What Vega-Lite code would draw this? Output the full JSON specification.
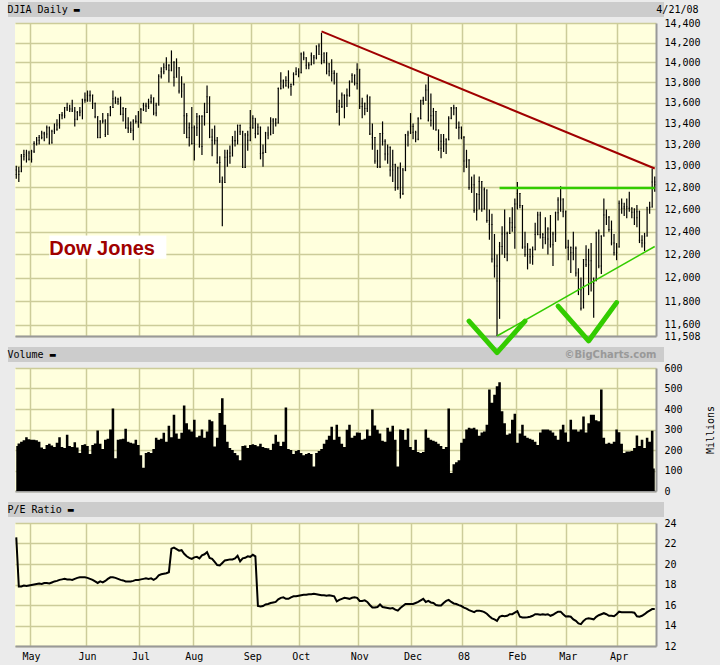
{
"$schema": "https://vega.github.io/schema/vega-lite/v6.json",
"background": "#ebebeb",
"padding": {"left": 7, "top": 4, "right": 10, "bottom": 10},
"bounds": "flush",
"spacing": 32,
"datasets": {
"rows": [
{"d":"2007-04-23","o":12960,"h":13000,"l":12880,"c":12920,"v":220,"pe":22.6},
{"d":"2007-04-24","o":12920,"h":12990,"l":12850,"c":12950,"v":232,"pe":17.8},
{"d":"2007-04-25","o":12950,"h":13110,"l":12940,"c":13090,"v":240,"pe":17.8},
{"d":"2007-04-26","o":13090,"h":13150,"l":13050,"c":13105,"v":248,"pe":17.9},
{"d":"2007-04-27","o":13100,"h":13150,"l":13030,"c":13120,"v":262,"pe":17.85},
{"d":"2007-04-30","o":13120,"h":13140,"l":13050,"c":13060,"v":252,"pe":17.9},
{"d":"2007-05-01","o":13060,"h":13150,"l":13030,"c":13135,"v":250,"pe":17.95},
{"d":"2007-05-02","o":13135,"h":13230,"l":13120,"c":13210,"v":250,"pe":18.0},
{"d":"2007-05-03","o":13210,"h":13270,"l":13190,"c":13240,"v":248,"pe":18.05},
{"d":"2007-05-04","o":13240,"h":13290,"l":13200,"c":13265,"v":240,"pe":18.1},
{"d":"2007-05-07","o":13265,"h":13330,"l":13250,"c":13310,"v":212,"pe":18.05},
{"d":"2007-05-08","o":13310,"h":13320,"l":13230,"c":13300,"v":205,"pe":18.15},
{"d":"2007-05-09","o":13300,"h":13380,"l":13260,"c":13360,"v":225,"pe":18.15},
{"d":"2007-05-10","o":13360,"h":13370,"l":13200,"c":13215,"v":230,"pe":18.1},
{"d":"2007-05-11","o":13215,"h":13340,"l":13210,"c":13325,"v":222,"pe":18.2},
{"d":"2007-05-14","o":13325,"h":13400,"l":13300,"c":13345,"v":215,"pe":18.3},
{"d":"2007-05-15","o":13345,"h":13440,"l":13330,"c":13385,"v":235,"pe":18.35},
{"d":"2007-05-16","o":13385,"h":13490,"l":13350,"c":13485,"v":262,"pe":18.45},
{"d":"2007-05-17","o":13485,"h":13510,"l":13440,"c":13475,"v":215,"pe":18.5},
{"d":"2007-05-18","o":13475,"h":13560,"l":13450,"c":13555,"v":210,"pe":18.55},
{"d":"2007-05-21","o":13555,"h":13600,"l":13520,"c":13540,"v":275,"pe":18.5},
{"d":"2007-05-22","o":13540,"h":13580,"l":13510,"c":13540,"v":220,"pe":18.5},
{"d":"2007-05-23","o":13540,"h":13630,"l":13510,"c":13520,"v":215,"pe":18.45},
{"d":"2007-05-24","o":13520,"h":13560,"l":13370,"c":13440,"v":238,"pe":18.55},
{"d":"2007-05-25","o":13440,"h":13520,"l":13430,"c":13505,"v":212,"pe":18.65},
{"d":"2007-05-29","o":13505,"h":13560,"l":13470,"c":13520,"v":185,"pe":18.7},
{"d":"2007-05-30","o":13520,"h":13640,"l":13440,"c":13630,"v":225,"pe":18.7},
{"d":"2007-05-31","o":13630,"h":13700,"l":13600,"c":13625,"v":228,"pe":18.7},
{"d":"2007-06-01","o":13625,"h":13720,"l":13610,"c":13670,"v":220,"pe":18.65},
{"d":"2007-06-04","o":13670,"h":13720,"l":13610,"c":13675,"v":180,"pe":18.55},
{"d":"2007-06-05","o":13675,"h":13680,"l":13540,"c":13595,"v":225,"pe":18.45},
{"d":"2007-06-06","o":13595,"h":13600,"l":13450,"c":13465,"v":232,"pe":18.3},
{"d":"2007-06-07","o":13465,"h":13470,"l":13260,"c":13265,"v":295,"pe":18.15},
{"d":"2007-06-08","o":13265,"h":13430,"l":13260,"c":13425,"v":230,"pe":18.3},
{"d":"2007-06-11","o":13425,"h":13500,"l":13400,"c":13425,"v":205,"pe":18.2},
{"d":"2007-06-12","o":13425,"h":13440,"l":13270,"c":13295,"v":250,"pe":18.35},
{"d":"2007-06-13","o":13295,"h":13500,"l":13295,"c":13480,"v":255,"pe":18.55},
{"d":"2007-06-14","o":13480,"h":13570,"l":13470,"c":13555,"v":300,"pe":18.7},
{"d":"2007-06-15","o":13555,"h":13720,"l":13550,"c":13640,"v":402,"pe":18.7},
{"d":"2007-06-18","o":13640,"h":13660,"l":13590,"c":13610,"v":160,"pe":18.65},
{"d":"2007-06-19","o":13610,"h":13650,"l":13580,"c":13635,"v":250,"pe":18.55},
{"d":"2007-06-20","o":13635,"h":13660,"l":13480,"c":13490,"v":252,"pe":18.45},
{"d":"2007-06-21","o":13490,"h":13560,"l":13420,"c":13545,"v":255,"pe":18.4},
{"d":"2007-06-22","o":13545,"h":13550,"l":13350,"c":13360,"v":304,"pe":18.3},
{"d":"2007-06-25","o":13360,"h":13460,"l":13310,"c":13350,"v":240,"pe":18.3},
{"d":"2007-06-26","o":13350,"h":13420,"l":13310,"c":13335,"v":235,"pe":18.3},
{"d":"2007-06-27","o":13335,"h":13440,"l":13240,"c":13425,"v":232,"pe":18.35},
{"d":"2007-06-28","o":13425,"h":13480,"l":13400,"c":13420,"v":250,"pe":18.45},
{"d":"2007-06-29","o":13420,"h":13520,"l":13360,"c":13410,"v":225,"pe":18.45},
{"d":"2007-07-02","o":13410,"h":13550,"l":13400,"c":13535,"v":175,"pe":18.5},
{"d":"2007-07-03","o":13535,"h":13600,"l":13520,"c":13575,"v":113,"pe":18.55},
{"d":"2007-07-05","o":13575,"h":13600,"l":13510,"c":13565,"v":185,"pe":18.6},
{"d":"2007-07-06","o":13565,"h":13640,"l":13540,"c":13610,"v":190,"pe":18.55},
{"d":"2007-07-09","o":13610,"h":13680,"l":13590,"c":13650,"v":185,"pe":18.6},
{"d":"2007-07-10","o":13650,"h":13650,"l":13480,"c":13500,"v":205,"pe":18.45},
{"d":"2007-07-11","o":13500,"h":13600,"l":13470,"c":13575,"v":260,"pe":18.6},
{"d":"2007-07-12","o":13575,"h":13880,"l":13575,"c":13860,"v":250,"pe":18.9},
{"d":"2007-07-13","o":13860,"h":13950,"l":13840,"c":13905,"v":255,"pe":19.0},
{"d":"2007-07-16","o":13905,"h":13990,"l":13880,"c":13950,"v":284,"pe":19.05},
{"d":"2007-07-17","o":13950,"h":14050,"l":13920,"c":13970,"v":240,"pe":19.1},
{"d":"2007-07-18","o":13970,"h":13980,"l":13800,"c":13920,"v":318,"pe":19.2},
{"d":"2007-07-19","o":13920,"h":14120,"l":13910,"c":14000,"v":262,"pe":21.5},
{"d":"2007-07-20","o":14000,"h":14010,"l":13760,"c":13850,"v":372,"pe":21.6},
{"d":"2007-07-23","o":13850,"h":14040,"l":13850,"c":13945,"v":280,"pe":21.45},
{"d":"2007-07-24","o":13945,"h":13950,"l":13690,"c":13715,"v":255,"pe":21.3},
{"d":"2007-07-25","o":13715,"h":13860,"l":13650,"c":13785,"v":284,"pe":21.35},
{"d":"2007-07-26","o":13785,"h":13790,"l":13300,"c":13475,"v":417,"pe":21.0},
{"d":"2007-07-27","o":13475,"h":13500,"l":13260,"c":13265,"v":330,"pe":20.75},
{"d":"2007-07-30","o":13265,"h":13410,"l":13180,"c":13360,"v":300,"pe":20.6},
{"d":"2007-07-31","o":13360,"h":13560,"l":13200,"c":13210,"v":290,"pe":20.5},
{"d":"2007-08-01","o":13210,"h":13380,"l":13050,"c":13360,"v":348,"pe":20.65},
{"d":"2007-08-02","o":13360,"h":13500,"l":13280,"c":13465,"v":262,"pe":20.7},
{"d":"2007-08-03","o":13465,"h":13480,"l":13170,"c":13180,"v":270,"pe":20.55},
{"d":"2007-08-06","o":13180,"h":13480,"l":13100,"c":13470,"v":300,"pe":20.85},
{"d":"2007-08-07","o":13470,"h":13600,"l":13380,"c":13505,"v":260,"pe":20.95},
{"d":"2007-08-08","o":13505,"h":13770,"l":13500,"c":13660,"v":290,"pe":21.15},
{"d":"2007-08-09","o":13660,"h":13660,"l":13260,"c":13270,"v":348,"pe":20.6},
{"d":"2007-08-10","o":13270,"h":13350,"l":13090,"c":13240,"v":340,"pe":20.5},
{"d":"2007-08-13","o":13240,"h":13380,"l":13200,"c":13235,"v":217,"pe":20.2},
{"d":"2007-08-14","o":13235,"h":13270,"l":13020,"c":13030,"v":260,"pe":19.9},
{"d":"2007-08-15","o":13030,"h":13090,"l":12840,"c":12860,"v":380,"pe":19.85},
{"d":"2007-08-16","o":12860,"h":12900,"l":12450,"c":12845,"v":452,"pe":20.1},
{"d":"2007-08-17","o":12845,"h":13150,"l":12840,"c":13080,"v":323,"pe":20.35},
{"d":"2007-08-20","o":13080,"h":13150,"l":12990,"c":13120,"v":240,"pe":20.4},
{"d":"2007-08-21","o":13120,"h":13190,"l":13020,"c":13090,"v":210,"pe":20.45},
{"d":"2007-08-22","o":13090,"h":13280,"l":13090,"c":13235,"v":200,"pe":20.45},
{"d":"2007-08-23","o":13235,"h":13330,"l":13180,"c":13235,"v":185,"pe":20.55},
{"d":"2007-08-24","o":13235,"h":13390,"l":13200,"c":13380,"v":175,"pe":20.8},
{"d":"2007-08-27","o":13380,"h":13390,"l":13290,"c":13320,"v":150,"pe":20.25},
{"d":"2007-08-28","o":13320,"h":13330,"l":12980,"c":12985,"v":220,"pe":20.55},
{"d":"2007-08-29","o":12985,"h":13310,"l":12980,"c":13290,"v":222,"pe":20.6},
{"d":"2007-08-30","o":13290,"h":13330,"l":13140,"c":13240,"v":210,"pe":20.75},
{"d":"2007-08-31","o":13240,"h":13530,"l":13230,"c":13360,"v":225,"pe":20.7},
{"d":"2007-09-04","o":13360,"h":13480,"l":13350,"c":13450,"v":228,"pe":20.9},
{"d":"2007-09-05","o":13450,"h":13450,"l":13260,"c":13305,"v":225,"pe":20.75},
{"d":"2007-09-06","o":13305,"h":13400,"l":13290,"c":13365,"v":218,"pe":15.9},
{"d":"2007-09-07","o":13365,"h":13370,"l":13060,"c":13115,"v":230,"pe":15.85},
{"d":"2007-09-10","o":13115,"h":13200,"l":12990,"c":13125,"v":215,"pe":15.9},
{"d":"2007-09-11","o":13125,"h":13320,"l":13120,"c":13310,"v":210,"pe":16.05},
{"d":"2007-09-12","o":13310,"h":13370,"l":13250,"c":13290,"v":208,"pe":16.1},
{"d":"2007-09-13","o":13290,"h":13460,"l":13290,"c":13425,"v":200,"pe":16.2},
{"d":"2007-09-14","o":13425,"h":13450,"l":13300,"c":13440,"v":230,"pe":16.25},
{"d":"2007-09-17","o":13440,"h":13450,"l":13370,"c":13405,"v":275,"pe":16.3},
{"d":"2007-09-18","o":13405,"h":13750,"l":13400,"c":13740,"v":240,"pe":16.55},
{"d":"2007-09-19","o":13740,"h":13900,"l":13730,"c":13815,"v":220,"pe":16.7},
{"d":"2007-09-20","o":13815,"h":13830,"l":13740,"c":13765,"v":240,"pe":16.75},
{"d":"2007-09-21","o":13765,"h":13860,"l":13760,"c":13820,"v":407,"pe":16.6},
{"d":"2007-09-24","o":13820,"h":13920,"l":13740,"c":13760,"v":205,"pe":16.6},
{"d":"2007-09-25","o":13760,"h":13790,"l":13670,"c":13780,"v":200,"pe":16.75},
{"d":"2007-09-26","o":13780,"h":13900,"l":13770,"c":13880,"v":180,"pe":16.85},
{"d":"2007-09-27","o":13880,"h":13950,"l":13870,"c":13910,"v":195,"pe":16.85},
{"d":"2007-09-28","o":13910,"h":13940,"l":13850,"c":13895,"v":200,"pe":16.9},
{"d":"2007-10-01","o":13895,"h":14100,"l":13890,"c":14085,"v":185,"pe":16.95},
{"d":"2007-10-02","o":14085,"h":14110,"l":14020,"c":14045,"v":175,"pe":17.0},
{"d":"2007-10-03","o":14045,"h":14050,"l":13930,"c":13970,"v":180,"pe":17.0},
{"d":"2007-10-04","o":13970,"h":14000,"l":13930,"c":13975,"v":185,"pe":17.05},
{"d":"2007-10-05","o":13975,"h":14100,"l":13970,"c":14065,"v":180,"pe":17.05},
{"d":"2007-10-08","o":14065,"h":14070,"l":13980,"c":14045,"v":119,"pe":17.1},
{"d":"2007-10-09","o":14045,"h":14170,"l":14030,"c":14165,"v":185,"pe":17.05},
{"d":"2007-10-10","o":14165,"h":14190,"l":14080,"c":14080,"v":195,"pe":17.0},
{"d":"2007-10-11","o":14080,"h":14300,"l":13980,"c":14015,"v":205,"pe":16.95},
{"d":"2007-10-12","o":14015,"h":14100,"l":13990,"c":14095,"v":230,"pe":16.95},
{"d":"2007-10-15","o":14095,"h":14100,"l":13880,"c":13985,"v":250,"pe":16.9},
{"d":"2007-10-16","o":13985,"h":13990,"l":13860,"c":13910,"v":270,"pe":16.95},
{"d":"2007-10-17","o":13910,"h":14030,"l":13810,"c":13890,"v":314,"pe":16.9},
{"d":"2007-10-18","o":13890,"h":13920,"l":13780,"c":13890,"v":250,"pe":16.85},
{"d":"2007-10-19","o":13890,"h":13890,"l":13500,"c":13520,"v":323,"pe":16.35},
{"d":"2007-10-22","o":13520,"h":13630,"l":13380,"c":13565,"v":265,"pe":16.5},
{"d":"2007-10-23","o":13565,"h":13700,"l":13550,"c":13675,"v":230,"pe":16.6},
{"d":"2007-10-24","o":13675,"h":13680,"l":13450,"c":13675,"v":215,"pe":16.7},
{"d":"2007-10-25","o":13675,"h":13740,"l":13560,"c":13670,"v":299,"pe":16.65},
{"d":"2007-10-26","o":13670,"h":13820,"l":13660,"c":13805,"v":323,"pe":16.6},
{"d":"2007-10-29","o":13805,"h":13890,"l":13800,"c":13870,"v":260,"pe":16.7},
{"d":"2007-10-30","o":13870,"h":13880,"l":13770,"c":13790,"v":270,"pe":16.75},
{"d":"2007-10-31","o":13790,"h":13990,"l":13730,"c":13930,"v":285,"pe":16.7},
{"d":"2007-11-01","o":13930,"h":13930,"l":13540,"c":13565,"v":284,"pe":16.4},
{"d":"2007-11-02","o":13565,"h":13650,"l":13450,"c":13595,"v":250,"pe":16.4},
{"d":"2007-11-05","o":13595,"h":13600,"l":13480,"c":13545,"v":255,"pe":16.45},
{"d":"2007-11-06","o":13545,"h":13680,"l":13510,"c":13660,"v":300,"pe":16.3},
{"d":"2007-11-07","o":13660,"h":13660,"l":13290,"c":13300,"v":270,"pe":16.0},
{"d":"2007-11-08","o":13300,"h":13400,"l":13150,"c":13265,"v":397,"pe":15.75},
{"d":"2007-11-09","o":13265,"h":13270,"l":13020,"c":13045,"v":320,"pe":15.75},
{"d":"2007-11-12","o":13045,"h":13150,"l":12980,"c":12990,"v":299,"pe":15.8},
{"d":"2007-11-13","o":12990,"h":13310,"l":12980,"c":13305,"v":280,"pe":16.05},
{"d":"2007-11-14","o":13305,"h":13420,"l":13190,"c":13230,"v":245,"pe":15.8},
{"d":"2007-11-15","o":13230,"h":13250,"l":13050,"c":13110,"v":240,"pe":15.75},
{"d":"2007-11-16","o":13110,"h":13200,"l":13020,"c":13175,"v":309,"pe":15.7},
{"d":"2007-11-19","o":13175,"h":13180,"l":12900,"c":12960,"v":290,"pe":15.65},
{"d":"2007-11-20","o":12960,"h":13150,"l":12850,"c":13010,"v":318,"pe":15.7},
{"d":"2007-11-21","o":13010,"h":13020,"l":12770,"c":12800,"v":250,"pe":15.55},
{"d":"2007-11-23","o":12800,"h":12990,"l":12780,"c":12980,"v":119,"pe":15.45},
{"d":"2007-11-26","o":12980,"h":13030,"l":12700,"c":12745,"v":300,"pe":15.7},
{"d":"2007-11-27","o":12745,"h":12980,"l":12730,"c":12960,"v":298,"pe":15.9},
{"d":"2007-11-28","o":12960,"h":13300,"l":12950,"c":13290,"v":250,"pe":16.1},
{"d":"2007-11-29","o":13290,"h":13330,"l":13180,"c":13310,"v":305,"pe":16.1},
{"d":"2007-11-30","o":13310,"h":13500,"l":13300,"c":13370,"v":215,"pe":16.1},
{"d":"2007-12-03","o":13370,"h":13400,"l":13250,"c":13315,"v":200,"pe":16.1},
{"d":"2007-12-04","o":13315,"h":13330,"l":13220,"c":13250,"v":250,"pe":16.2},
{"d":"2007-12-05","o":13250,"h":13460,"l":13240,"c":13445,"v":190,"pe":16.3},
{"d":"2007-12-06","o":13445,"h":13630,"l":13440,"c":13620,"v":185,"pe":16.45},
{"d":"2007-12-07","o":13620,"h":13660,"l":13580,"c":13625,"v":190,"pe":16.6},
{"d":"2007-12-10","o":13625,"h":13780,"l":13620,"c":13725,"v":300,"pe":16.3},
{"d":"2007-12-11","o":13725,"h":13860,"l":13420,"c":13430,"v":260,"pe":16.4},
{"d":"2007-12-12","o":13430,"h":13690,"l":13370,"c":13475,"v":250,"pe":16.25},
{"d":"2007-12-13","o":13475,"h":13550,"l":13340,"c":13515,"v":245,"pe":16.2},
{"d":"2007-12-14","o":13515,"h":13520,"l":13330,"c":13340,"v":240,"pe":16.0},
{"d":"2007-12-17","o":13340,"h":13340,"l":13140,"c":13165,"v":230,"pe":15.95},
{"d":"2007-12-18","o":13165,"h":13300,"l":13070,"c":13230,"v":220,"pe":15.95},
{"d":"2007-12-19","o":13230,"h":13300,"l":13130,"c":13205,"v":205,"pe":16.2},
{"d":"2007-12-20","o":13205,"h":13260,"l":13110,"c":13245,"v":215,"pe":16.4},
{"d":"2007-12-21","o":13245,"h":13470,"l":13240,"c":13450,"v":402,"pe":16.5},
{"d":"2007-12-24","o":13450,"h":13560,"l":13440,"c":13550,"v":88,"pe":16.3},
{"d":"2007-12-26","o":13550,"h":13580,"l":13480,"c":13550,"v":130,"pe":16.15},
{"d":"2007-12-27","o":13550,"h":13560,"l":13350,"c":13360,"v":140,"pe":16.1},
{"d":"2007-12-28","o":13360,"h":13420,"l":13250,"c":13365,"v":150,"pe":15.99},
{"d":"2007-12-31","o":13365,"h":13370,"l":13250,"c":13265,"v":235,"pe":15.9},
{"d":"2008-01-02","o":13265,"h":13280,"l":12940,"c":13045,"v":255,"pe":15.75},
{"d":"2008-01-03","o":13045,"h":13150,"l":12980,"c":13055,"v":300,"pe":15.65},
{"d":"2008-01-04","o":13055,"h":13060,"l":12780,"c":12800,"v":309,"pe":15.5},
{"d":"2008-01-07","o":12800,"h":12900,"l":12750,"c":12825,"v":305,"pe":15.4},
{"d":"2008-01-08","o":12825,"h":12920,"l":12570,"c":12590,"v":309,"pe":15.3},
{"d":"2008-01-09","o":12590,"h":12750,"l":12500,"c":12735,"v":300,"pe":15.45},
{"d":"2008-01-10","o":12735,"h":12900,"l":12600,"c":12855,"v":270,"pe":15.45},
{"d":"2008-01-11","o":12855,"h":12860,"l":12580,"c":12605,"v":285,"pe":15.4},
{"d":"2008-01-14","o":12605,"h":12800,"l":12600,"c":12780,"v":290,"pe":15.3},
{"d":"2008-01-15","o":12780,"h":12780,"l":12480,"c":12500,"v":323,"pe":15.15},
{"d":"2008-01-16","o":12500,"h":12600,"l":12330,"c":12465,"v":495,"pe":14.9},
{"d":"2008-01-17","o":12465,"h":12560,"l":12130,"c":12160,"v":431,"pe":14.7},
{"d":"2008-01-18","o":12160,"h":12380,"l":12000,"c":12100,"v":470,"pe":14.6},
{"d":"2008-01-22","o":12100,"h":12200,"l":11508,"c":11970,"v":511,"pe":14.45},
{"d":"2008-01-23","o":11970,"h":12310,"l":11650,"c":12270,"v":531,"pe":14.85},
{"d":"2008-01-24","o":12270,"h":12450,"l":12200,"c":12380,"v":389,"pe":14.95},
{"d":"2008-01-25","o":12380,"h":12600,"l":12170,"c":12205,"v":330,"pe":14.9},
{"d":"2008-01-28","o":12205,"h":12400,"l":12140,"c":12385,"v":275,"pe":14.95},
{"d":"2008-01-29","o":12385,"h":12530,"l":12380,"c":12480,"v":280,"pe":15.1},
{"d":"2008-01-30","o":12480,"h":12620,"l":12400,"c":12440,"v":348,"pe":15.1},
{"d":"2008-01-31","o":12440,"h":12700,"l":12250,"c":12650,"v":377,"pe":15.25},
{"d":"2008-02-01","o":12650,"h":12850,"l":12600,"c":12745,"v":235,"pe":15.4},
{"d":"2008-02-04","o":12745,"h":12750,"l":12610,"c":12635,"v":280,"pe":14.85},
{"d":"2008-02-05","o":12635,"h":12640,"l":12250,"c":12265,"v":323,"pe":14.78},
{"d":"2008-02-06","o":12265,"h":12400,"l":12180,"c":12200,"v":270,"pe":14.78},
{"d":"2008-02-07","o":12200,"h":12300,"l":12070,"c":12245,"v":260,"pe":14.8},
{"d":"2008-02-08","o":12245,"h":12250,"l":12120,"c":12180,"v":255,"pe":14.85},
{"d":"2008-02-11","o":12180,"h":12270,"l":12110,"c":12240,"v":250,"pe":14.95},
{"d":"2008-02-12","o":12240,"h":12480,"l":12240,"c":12375,"v":240,"pe":15.1},
{"d":"2008-02-13","o":12375,"h":12580,"l":12370,"c":12550,"v":225,"pe":15.1},
{"d":"2008-02-14","o":12550,"h":12580,"l":12340,"c":12375,"v":285,"pe":15.05},
{"d":"2008-02-15","o":12375,"h":12390,"l":12250,"c":12350,"v":300,"pe":15.1},
{"d":"2008-02-19","o":12350,"h":12530,"l":12290,"c":12335,"v":300,"pe":15.05},
{"d":"2008-02-20","o":12335,"h":12440,"l":12200,"c":12425,"v":300,"pe":15.1},
{"d":"2008-02-21","o":12425,"h":12550,"l":12260,"c":12285,"v":295,"pe":14.95},
{"d":"2008-02-22","o":12285,"h":12400,"l":12100,"c":12380,"v":285,"pe":15.05},
{"d":"2008-02-25","o":12380,"h":12580,"l":12310,"c":12570,"v":270,"pe":15.2},
{"d":"2008-02-26","o":12570,"h":12710,"l":12500,"c":12685,"v":250,"pe":15.35},
{"d":"2008-02-27","o":12685,"h":12810,"l":12580,"c":12695,"v":300,"pe":15.35},
{"d":"2008-02-28","o":12695,"h":12700,"l":12530,"c":12580,"v":323,"pe":15.1},
{"d":"2008-02-29","o":12580,"h":12590,"l":12250,"c":12265,"v":285,"pe":14.88},
{"d":"2008-03-03","o":12265,"h":12330,"l":12150,"c":12260,"v":240,"pe":14.9},
{"d":"2008-03-04","o":12260,"h":12270,"l":12040,"c":12215,"v":348,"pe":14.85},
{"d":"2008-03-05","o":12215,"h":12400,"l":12150,"c":12255,"v":300,"pe":14.6},
{"d":"2008-03-06","o":12255,"h":12270,"l":12010,"c":12040,"v":300,"pe":14.45},
{"d":"2008-03-07","o":12040,"h":12080,"l":11850,"c":11895,"v":290,"pe":14.2},
{"d":"2008-03-10","o":11895,"h":12000,"l":11720,"c":11740,"v":300,"pe":14.13},
{"d":"2008-03-11","o":11740,"h":12160,"l":11740,"c":12155,"v":364,"pe":14.45},
{"d":"2008-03-12","o":12155,"h":12280,"l":12090,"c":12110,"v":285,"pe":14.65},
{"d":"2008-03-13","o":12110,"h":12250,"l":11850,"c":12145,"v":330,"pe":14.7},
{"d":"2008-03-14","o":12145,"h":12300,"l":11880,"c":11950,"v":372,"pe":14.65},
{"d":"2008-03-17","o":11950,"h":12000,"l":11660,"c":11970,"v":372,"pe":14.6},
{"d":"2008-03-18","o":11970,"h":12400,"l":11970,"c":12390,"v":345,"pe":14.85},
{"d":"2008-03-19","o":12390,"h":12420,"l":12080,"c":12100,"v":340,"pe":15.0},
{"d":"2008-03-20","o":12100,"h":12370,"l":12030,"c":12360,"v":495,"pe":15.1},
{"d":"2008-03-24","o":12360,"h":12700,"l":12360,"c":12550,"v":260,"pe":15.2},
{"d":"2008-03-25","o":12550,"h":12600,"l":12460,"c":12530,"v":230,"pe":15.1},
{"d":"2008-03-26","o":12530,"h":12540,"l":12400,"c":12420,"v":235,"pe":14.95},
{"d":"2008-03-27","o":12420,"h":12500,"l":12280,"c":12300,"v":230,"pe":14.95},
{"d":"2008-03-28","o":12300,"h":12380,"l":12190,"c":12215,"v":240,"pe":14.9},
{"d":"2008-03-31","o":12215,"h":12300,"l":12150,"c":12265,"v":300,"pe":15.1},
{"d":"2008-04-01","o":12265,"h":12680,"l":12260,"c":12655,"v":286,"pe":15.35},
{"d":"2008-04-02","o":12655,"h":12700,"l":12560,"c":12610,"v":230,"pe":15.3},
{"d":"2008-04-03","o":12610,"h":12660,"l":12540,"c":12625,"v":185,"pe":15.3},
{"d":"2008-04-04","o":12625,"h":12700,"l":12520,"c":12610,"v":193,"pe":15.3},
{"d":"2008-04-07","o":12610,"h":12760,"l":12580,"c":12610,"v":193,"pe":15.3},
{"d":"2008-04-08","o":12610,"h":12620,"l":12520,"c":12575,"v":195,"pe":15.3},
{"d":"2008-04-09","o":12575,"h":12610,"l":12460,"c":12525,"v":210,"pe":15.25},
{"d":"2008-04-10","o":12525,"h":12640,"l":12440,"c":12580,"v":271,"pe":14.9},
{"d":"2008-04-11","o":12580,"h":12590,"l":12300,"c":12325,"v":220,"pe":14.85},
{"d":"2008-04-14","o":12325,"h":12370,"l":12260,"c":12300,"v":250,"pe":14.95},
{"d":"2008-04-15","o":12300,"h":12390,"l":12230,"c":12360,"v":210,"pe":15.1},
{"d":"2008-04-16","o":12360,"h":12620,"l":12360,"c":12620,"v":260,"pe":15.3},
{"d":"2008-04-17","o":12620,"h":12670,"l":12560,"c":12620,"v":240,"pe":15.45},
{"d":"2008-04-18","o":12620,"h":12975,"l":12620,"c":12850,"v":294,"pe":15.6},
{"d":"2008-04-21","o":12850,"h":12900,"l":12760,"c":12825,"v":110,"pe":15.6}
],
"red": [{"d":"2007-10-11","p":14314},{"d":"2008-04-21","p":12975}],
"gh": [{"d":"2008-01-23","p":12795},{"d":"2008-04-21","p":12795}],
"gr": [{"d":"2008-01-22","p":11508},{"d":"2008-04-21","p":12270}],
"box": [{"d1":"2007-05-10","d2":"2007-07-17","p1":12366,"p2":12163}],
"lbl": [{"d":"2007-05-10","p":12197,"t":"Dow Jones"}],
"vees": [
{"g":1,"d":"2008-01-04","v":829},{"g":1,"d":"2008-01-22","v":675},{"g":1,"d":"2008-02-06","v":829},
{"g":2,"d":"2008-02-26","v":902},{"g":2,"d":"2008-03-13","v":732},{"g":2,"d":"2008-03-31","v":919}
]
},
"vconcat": [
{
"width": 641, "height": 313,
"layer": [
{"data": {"name": "rows"}, "mark": {"type": "rule", "color": "#000000", "strokeWidth": 1.2},
 "encoding": {
  "x": {"field": "d", "type": "ordinal", "scale": {"type": "band", "paddingInner": 0, "paddingOuter": 0},
   "axis": {"orient": "bottom", "values": ["2007-05-01","2007-06-01","2007-07-02","2007-08-01","2007-09-04","2007-10-01","2007-11-01","2007-12-03","2008-01-02","2008-02-01","2008-03-03","2008-04-01"], "bandPosition": 0, "labels": false, "title": null, "grid": true}},
  "y": {"field": "h", "type": "quantitative", "title": null, "scale": {"type": "log", "domain": [11508, 14400], "nice": false, "zero": false},
   "axis": {"orient": "right", "values": [11508,11600,11800,12000,12200,12400,12600,12800,13000,13200,13400,13600,13800,14000,14200,14400], "format": ",d", "title": null, "grid": true, "labelOverlap": false}},
  "y2": {"field": "l"}
 }},
{"data": {"name": "rows"}, "mark": {"type": "tick", "color": "#000000", "size": 1.3, "thickness": 1},
 "encoding": {"x": {"field": "d", "type": "ordinal", "bandPosition": 0.2, "axis": null}, "y": {"field": "o", "type": "quantitative", "title": null}}},
{"data": {"name": "rows"}, "mark": {"type": "tick", "color": "#000000", "size": 1.3, "thickness": 1},
 "encoding": {"x": {"field": "d", "type": "ordinal", "bandPosition": 0.8, "axis": null}, "y": {"field": "c", "type": "quantitative", "title": null}}},
{"data": {"name": "box"}, "mark": {"type": "rect", "fill": "#ffffff"},
 "encoding": {"x": {"field": "d1", "type": "ordinal", "axis": null}, "x2": {"field": "d2"}, "y": {"field": "p1", "type": "quantitative", "title": null}, "y2": {"field": "p2"}}},
{"data": {"name": "lbl"}, "mark": {"type": "text", "align": "left", "baseline": "alphabetic", "font": "Liberation Sans", "fontWeight": "bold", "fontSize": 20, "color": "#a00000", "dx": 0},
 "encoding": {"x": {"field": "d", "type": "ordinal", "axis": null}, "y": {"field": "p", "type": "quantitative", "title": null}, "text": {"field": "t"}}},
{"data": {"name": "gh"}, "mark": {"type": "line", "color": "#33cc00", "strokeWidth": 2.5},
 "encoding": {
  "x": {"field": "d", "type": "ordinal",
   "axis": {"orient": "top", "values": [], "labels": false, "offset": 14, "domainColor": "#cccccc", "domainWidth": 15, "domainCap": "square", "grid": false, "title": "DJIA Daily ▬", "titleX": -8, "titleY": 0, "titleAlign": "left", "titleBaseline": "middle"}},
  "y": {"field": "p", "type": "quantitative", "title": null}}},
{"data": {"name": "gr"}, "mark": {"type": "line", "color": "#33cc00", "strokeWidth": 1.5},
 "encoding": {"x": {"field": "d", "type": "ordinal", "axis": null}, "y": {"field": "p", "type": "quantitative", "title": null}}},
{"data": {"name": "red"}, "mark": {"type": "line", "color": "#a00000", "strokeWidth": 2},
 "encoding": {
  "x": {"field": "d", "type": "ordinal",
   "axis": {"orient": "top", "offset": 14, "domain": false, "labels": false, "grid": false, "values": [], "title": "4/21/08", "titleX": 683, "titleY": 0, "titleAlign": "right", "titleBaseline": "middle"}},
  "y": {"field": "p", "type": "quantitative", "title": null}}}
],
"resolve": {"axis": {"x": "independent"}}
},
{
"width": 641, "height": 123,
"layer": [
{"data": {"name": "rows"}, "mark": {"type": "area", "interpolate": "step", "color": "#000000"},
 "encoding": {
  "x": {"field": "d", "type": "ordinal", "scale": {"type": "band", "paddingInner": 0, "paddingOuter": 0},
   "axis": {"orient": "bottom", "values": ["2007-05-01","2007-06-01","2007-07-02","2007-08-01","2007-09-04","2007-10-01","2007-11-01","2007-12-03","2008-01-02","2008-02-01","2008-03-03","2008-04-01"], "bandPosition": 0, "labels": false, "title": null, "grid": true}},
  "y": {"field": "v", "type": "quantitative", "scale": {"domain": [0, 600], "nice": false},
   "axis": {"orient": "right", "values": [0,100,200,300,400,500,600], "labelOverlap": false, "title": "Millions", "titleAngle": 270, "titleX": 54, "titleY": 61.5, "titleAlign": "center", "titleBaseline": "middle", "grid": true}}
 }},
{"data": {"name": "vees"}, "mark": {"type": "line", "color": "#33cc00", "strokeWidth": 5, "strokeCap": "round", "strokeJoin": "round", "clip": false},
 "encoding": {
  "x": {"field": "d", "type": "ordinal",
   "axis": {"orient": "top", "values": [], "labels": false, "offset": 14, "domainColor": "#cccccc", "domainWidth": 15, "domainCap": "square", "grid": false, "title": "Volume ▬", "titleX": -8, "titleY": 0, "titleAlign": "left", "titleBaseline": "middle"}},
  "y": {"field": "v", "type": "quantitative",
   "axis": {"orient": "right", "values": [0,100,200,300,400,500,600], "labelOverlap": false, "title": "Millions", "titleAngle": 270, "titleX": 54, "titleY": 61.5, "titleAlign": "center", "titleBaseline": "middle", "grid": true}},
  "detail": {"field": "g"}
 }},
{"data": {"name": "rows"}, "mark": {"type": "point", "opacity": 0},
 "encoding": {
  "x": {"field": "d", "type": "ordinal",
   "axis": {"orient": "top", "values": [], "labels": false, "offset": 14, "domain": false, "grid": false, "title": "©BigCharts.com", "titleFont": "DejaVu Sans", "titleFontWeight": "bold", "titleColor": "#999999", "titleX": 641, "titleY": 0, "titleAlign": "right", "titleBaseline": "middle"}},
  "y": {"field": "v", "type": "quantitative",
   "axis": {"orient": "right", "values": [0,100,200,300,400,500,600], "labelOverlap": false, "title": "Millions", "titleAngle": 270, "titleX": 54, "titleY": 61.5, "titleAlign": "center", "titleBaseline": "middle", "grid": true}}
 }}
],
"resolve": {"axis": {"x": "independent"}}
},
{
"width": 641, "height": 123,
"layer": [
{"data": {"name": "rows"}, "mark": {"type": "line", "color": "#000000", "strokeWidth": 2},
 "encoding": {
  "x": {"field": "d", "type": "ordinal", "scale": {"type": "band", "paddingInner": 0, "paddingOuter": 0},
   "axis": {"orient": "bottom", "values": ["2007-05-01","2007-06-01","2007-07-02","2007-08-01","2007-09-04","2007-10-01","2007-11-01","2007-12-03","2008-01-02","2008-02-01","2008-03-03","2008-04-01"], "bandPosition": 0, "labelExpr": "datum.value == '2008-01-02' ? '08' : utcFormat(toDate(datum.value), '%b')", "labelAngle": 0, "labelPadding": 5, "labelAlign": "center", "title": null, "grid": true}},
  "y": {"field": "pe", "type": "quantitative", "scale": {"domain": [12, 24], "nice": false, "zero": false},
   "axis": {"orient": "right", "values": [12,14,16,18,20,22,24], "labelOverlap": false, "title": null, "grid": true}}
 }},
{"data": {"name": "rows"}, "mark": {"type": "point", "opacity": 0},
 "encoding": {
  "x": {"field": "d", "type": "ordinal",
   "axis": {"orient": "top", "values": [], "labels": false, "offset": 14, "domainColor": "#cccccc", "domainWidth": 15, "domainCap": "square", "grid": false, "title": "P/E Ratio ▬", "titleX": -8, "titleY": 0, "titleAlign": "left", "titleBaseline": "middle"}},
  "y": {"field": "pe", "type": "quantitative",
   "axis": {"orient": "right", "values": [12,14,16,18,20,22,24], "labelOverlap": false, "title": null, "grid": true}}
 }}
],
"resolve": {"axis": {"x": "independent"}}
}
],
"config": {
 "view": {"stroke": null, "fill": "#ffffdd"},
 "axis": {"labelFont": "DejaVu Sans Mono", "labelFontSize": 10, "labelColor": "#000000", "titleFont": "DejaVu Sans Mono", "titleFontSize": 10, "titleFontWeight": "normal", "titleColor": "#000000", "ticks": false, "tickSize": 0, "gridColor": "#cccc99", "gridWidth": 1.5, "gridOpacity": 1, "domainColor": "#999999", "domainWidth": 2, "labelPadding": 8}
}
}
